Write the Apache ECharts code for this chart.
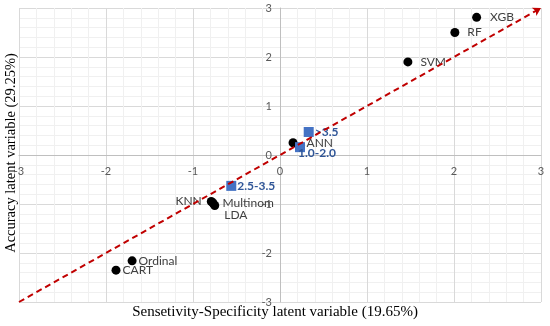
<!DOCTYPE html>
<html>
<head>
<meta charset="utf-8">
<script src="https://cdn.jsdelivr.net/npm/echarts@6/dist/echarts.min.js"></script>
<style>
html,body{margin:0;padding:0;background:#fff;}
#chart{width:550px;height:326px;}
</style>
</head>
<body>
<div id="chart"></div>
<script>
// Model points (black circles)
var modelNames = ['XGB', 'RF', 'SVM', 'ANN', 'KNN', 'Multinom', 'LDA', 'Ordinal', 'CART'];
var modelX = [2.26, 2.01, 1.47, 0.15, -0.79, -0.77, -0.75, -1.70, -1.885];
var modelY = [2.81, 2.50, 1.90, 0.25, -0.95, -0.98, -1.03, -2.16, -2.35];

// Group points (blue squares)
var groupNames = ['>3.5', '1.0-2.0', '2.5-3.5'];
var groupX = [0.33, 0.23, -0.56];
var groupY = [0.47, 0.16, -0.63];

// Reference diagonal
var diagX = [-3, 3];
var diagY = [-3, 3];

// Axis settings / titles
var axisMin = -3, axisMax = 3, axisStep = 1;
var xTitle = 'Sensetivity-Specificity latent variable (19.65%)';
var yTitle = 'Accuracy latent variable (29.25%)';

// label placement per model (style, kept separate from data)
var modelLabelStyle = {
  'XGB': {position: 'right', distance: 9},
  'RF': {position: 'right', distance: 8},
  'SVM': {position: 'right', distance: 8},
  'ANN': {position: 'right', distance: 9},
  'KNN': {position: 'left', distance: 5},
  'Multinom': {position: 'right', distance: 5},
  'LDA': {position: 'right', distance: 5, offset: [0, 10]},
  'Ordinal': {position: 'right', distance: 2},
  'CART': {position: 'right', distance: 2}
};
var groupLabelStyle = {
  '>3.5': {position: 'right', distance: 1},
  '1.0-2.0': {position: 'right', distance: 0, offset: [-7, 6]},
  '2.5-3.5': {position: 'right', distance: 1}
};

var modelData = modelNames.map(function (n, i) {
  return {name: n, value: [modelX[i], modelY[i]], label: modelLabelStyle[n]};
});
var groupData = groupNames.map(function (n, i) {
  return {name: n, value: [groupX[i], groupY[i]], label: groupLabelStyle[n]};
});

var gridLeft = 19, gridRight = 9, gridTop = 8, gridBottom = 24;
var W = 550, H = 326;
var plotW = W - gridLeft - gridRight, plotH = H - gridTop - gridBottom;
// move axes to the origin (inward offsets)
var xAxisOffset = -plotH * (0 - axisMin) / (axisMax - axisMin);
var yAxisOffset = -plotW * (0 - axisMin) / (axisMax - axisMin);

var chart = echarts.init(document.getElementById('chart'), null, {renderer: 'canvas'});

var axisCommon = {
  type: 'value',
  min: axisMin, max: axisMax, interval: axisStep,
  axisLine: {show: true, onZero: false, lineStyle: {color: '#bfbfbf', width: 1}},
  axisTick: {show: false},
  splitLine: {show: true, lineStyle: {color: '#d9d9d9', width: 1}},
  minorTick: {show: false, splitNumber: 5},
  minorSplitLine: {show: true, lineStyle: {color: '#f0f0f0', width: 1}},
  axisLabel: {color: '#595959', fontSize: 11, fontFamily: 'Lato', showMinLabel: true, showMaxLabel: true}
};

var option = {
  animation: false,
  backgroundColor: '#ffffff',
  grid: {left: gridLeft, right: gridRight, top: gridTop, bottom: gridBottom, containLabel: false},
  xAxis: Object.assign({}, axisCommon, {
    position: 'bottom',
    offset: xAxisOffset,
    axisLabel: Object.assign({}, axisCommon.axisLabel, {margin: 11})
  }),
  yAxis: Object.assign({}, axisCommon, {
    position: 'left',
    offset: yAxisOffset,
    axisLabel: Object.assign({}, axisCommon.axisLabel, {margin: 8})
  }),
  graphic: [
    {type: 'text', left: 'center', top: 305,
      style: {text: xTitle, font: '15px "Liberation Serif"', fill: '#000'}},
    {type: 'text', x: 4, y: 153, rotation: Math.PI / 2,
      style: {text: yTitle, font: '14.5px "Liberation Serif"', fill: '#000', align: 'center', verticalAlign: 'top'}}
  ],
  series: [
    {
      type: 'line',
      data: diagX.map(function (x, i) { return [x, diagY[i]]; }),
      symbol: 'none',
      lineStyle: {opacity: 0},
      silent: true,
      z: 1,
      markLine: {
        silent: true,
        symbol: ['none', 'arrow'],
        symbolSize: [7, 8],
        label: {show: false},
        lineStyle: {color: '#C00000', type: [6, 4], width: 2},
        data: [[{coord: [diagX[0], diagY[0]]}, {coord: [diagX[1], diagY[1]]}]]
      }
    },
    {
      type: 'scatter',
      data: modelData,
      symbol: 'circle',
      symbolSize: 9,
      itemStyle: {color: '#000000', opacity: 1},
      z: 3,
      label: {show: true, formatter: '{b}', color: '#404040', fontSize: 12, fontFamily: 'Lato'}
    },
    {
      type: 'scatter',
      data: groupData,
      symbol: 'rect',
      symbolSize: 10,
      itemStyle: {color: '#4472C4', opacity: 1},
      z: 4,
      label: {show: true, formatter: '{b}', color: '#2F5597', fontSize: 12, fontWeight: 'bold', fontFamily: 'Lato'}
    }
  ]
};
chart.setOption(option);
</script>
</body>
</html>
